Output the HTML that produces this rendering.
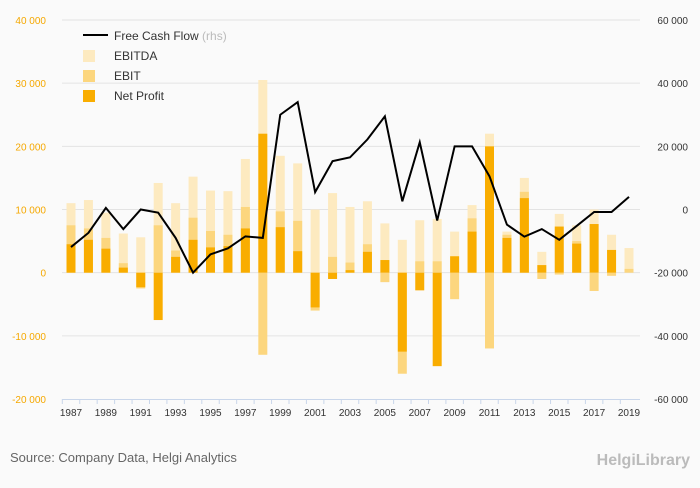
<!DOCTYPE html>
<html><head><meta charset="utf-8"><style>
body{margin:0;background:#fafafa;font-family:"Liberation Sans",sans-serif;}
svg text{font-family:"Liberation Sans",sans-serif;}
</style></head><body>
<svg width="700" height="483">
<rect width="700" height="483" fill="#fafafa"/>
<g id="grid"></g><g id="bars"></g><g id="line"></g><g id="axes"></g>
<g>
<line x1="83" y1="35" x2="108" y2="35" stroke="#000" stroke-width="2"/>
<text x="114" y="40" font-size="12" fill="#333">Free Cash Flow <tspan fill="#bbb">(rhs)</tspan></text>
<rect x="83" y="50" width="12" height="12" fill="#fdeac0"/>
<text x="114" y="60" font-size="12" fill="#333">EBITDA</text>
<rect x="83" y="70" width="12" height="12" fill="#fcd67e"/>
<text x="114" y="80" font-size="12" fill="#333">EBIT</text>
<rect x="83" y="90" width="12" height="12" fill="#f9ad00"/>
<text x="114" y="100" font-size="12" fill="#333">Net Profit</text>
</g>
<text x="10" y="462" font-size="13" fill="#666">Source: Company Data, Helgi Analytics</text>
<text x="690" y="465" font-size="16" fill="#bbb" text-anchor="end" font-weight="bold">HelgiLibrary</text>
</svg>
<script>
const years=[1987,1988,1989,1990,1991,1992,1993,1994,1995,1996,1997,1998,1999,2000,2001,2002,2003,2004,2005,2006,2007,2008,2009,2010,2011,2012,2013,2014,2015,2016,2017,2018,2019];
const ebitda=[11000,11500,9500,6200,5600,14200,11000,15200,13000,12900,18000,30500,18500,17300,10000,12600,10400,11300,7800,5200,8300,8500,6500,10700,22000,6500,15000,3300,9300,7500,10000,6000,3900];
const ebit=[7500,7000,5500,1500,-2500,7500,3500,8700,6600,6000,10400,-13000,9700,8200,-6000,2500,1600,4500,-1500,-16000,1800,1800,-4200,8600,-12000,6000,12800,-1000,-300,5000,-2900,-500,600];
const netProfit=[4500,5200,3800,800,-2300,-7500,2500,5200,4000,4200,7000,22000,7200,3400,-5500,-1000,400,3300,2000,-12500,-2800,-14800,2600,6500,20000,5500,11800,1200,7300,4600,7700,3600,0];
const fcf=[-11900,-7400,500,-6200,0,-1000,-9000,-20000,-14200,-12300,-8500,-9000,30000,34000,5500,15300,16500,22200,29500,2600,21300,-3500,20000,20000,10500,-4800,-8600,-6200,-9600,-5200,-800,-800,4000];
const leftTicks=[-20000,-10000,0,10000,20000,30000,40000];
const rightTicks=[-60000,-40000,-20000,0,20000,40000,60000];
const NS="http://www.w3.org/2000/svg";
const T=20,B=399,L=62,R=640;
const yL=v=>B-(v+20000)/60000*(B-T);
const yR=v=>B-(v+60000)/120000*(B-T);
const x=i=>71+i*(629-71)/(years.length-1);
function mk(t,a,p){const e=document.createElementNS(NS,t);for(const k in a)e.setAttribute(k,a[k]);p.appendChild(e);return e;}
const g=document.getElementById('grid'),b=document.getElementById('bars'),ln=document.getElementById('line'),ax=document.getElementById('axes');
const fmt=v=>(v<0?'-':'')+String(Math.abs(v)).replace(/\B(?=(\d{3})+(?!\d))/g,' ');
leftTicks.forEach(v=>{
 if(v!==-20000){const l=mk('line',{x1:L,x2:R,y1:yL(v),y2:yL(v),stroke:'#e3e3e3','stroke-width':1},g);
 
 }
 const t=mk('text',{x:46,y:yL(v)+4,'font-size':10,fill:'#f5a800','text-anchor':'end'},ax);t.textContent=fmt(v);
 
 
});
rightTicks.forEach(v=>{
 const t=mk('text',{x:688,y:yR(v)+4,'font-size':10,fill:'#333','text-anchor':'end'},ax);t.textContent=fmt(v);
 
 
});
const xl=mk('line',{x1:L,x2:R,y1:B+0.5,y2:B+0.5,stroke:'#c9d6ea'},ax);


years.forEach((y,i)=>{
 const tk=mk('line',{x1:x(i)-8.7,x2:x(i)-8.7,y1:B,y2:B+5,stroke:'#c9d6ea'},ax);
 
 
 if(i%2===0){const t=mk('text',{x:x(i),y:416,'font-size':10,fill:'#333','text-anchor':'middle'},ax);t.textContent=y;
 
 }
});
function bar(v,i,c,n){const y0=yL(0),y1=yL(v);const r=mk('rect',{x:x(i)-4.5,width:9,y:Math.min(y0,y1),height:Math.abs(y1-y0),fill:c},b);
 
 }
years.forEach((y,i)=>{bar(ebitda[i],i,'#fdeac0','bar-ebitda-'+y);bar(ebit[i],i,'#fcd67e','bar-ebit-'+y);bar(netProfit[i],i,'#f9ad00','bar-net-profit-'+y);});
const p=mk('polyline',{points:fcf.map((v,i)=>x(i)+','+yR(v)).join(' '),fill:'none',stroke:'#000','stroke-width':2},ln);


</script>
</body></html>
